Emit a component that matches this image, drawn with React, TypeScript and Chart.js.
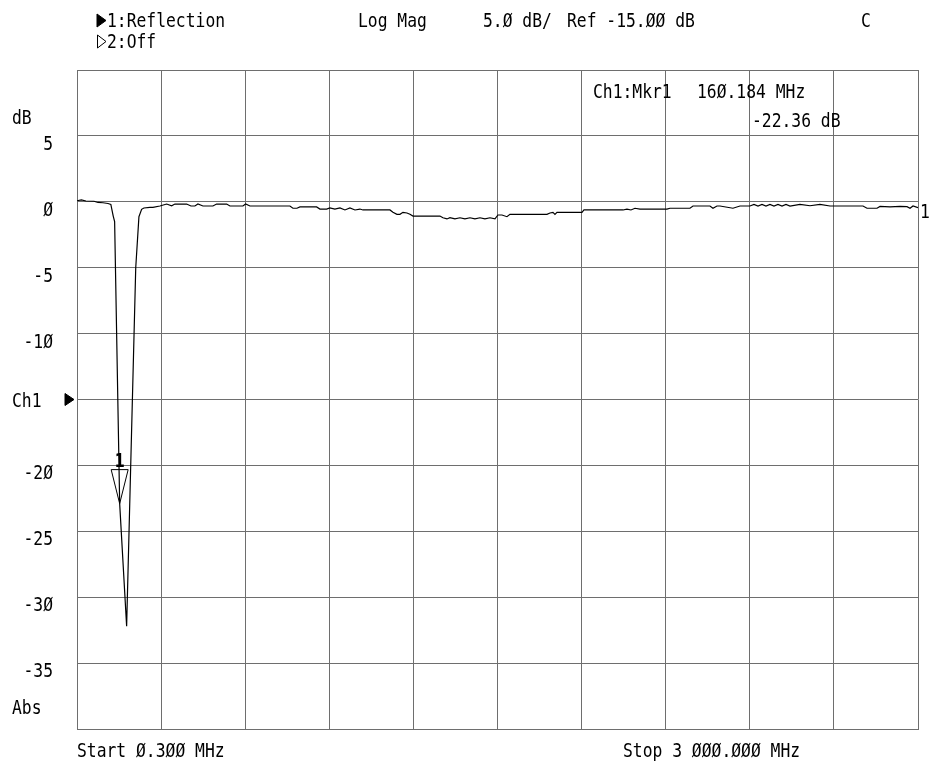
import React, { useEffect, useRef } from "react";
import { Chart, registerables } from "chart.js";

Chart.register(...registerables);

// ---- data ----
const FREQ_START = 0.3;
const FREQ_STOP = 3000;
const FREQ_DIV = 300;
const DB_MIN = -40;
const DB_MAX = 10;
const DB_DIV = 5;
const REF_LEVEL_DB = -15;

const traceFreqMHz = [
  0.3, 16, 32, 61, 75, 93, 111, 121, 129.5, 134.5,
  152.5, 177.3, 209.8, 221.2, 230.8, 239, 260.4, 271.1, 296, 320,
  337.8, 349.6, 391.3, 406.7, 420.9, 431.6, 449.5, 485.1, 498.3, 534,
  545.8, 592.2, 601.8, 617.1, 759.8, 770.5, 784.8, 795.5, 855, 866.8,
  890.7, 902.5, 920.3, 938.2, 956, 973.8, 991.7, 1009.5, 1020.2, 1116.5,
  1127.2, 1141.5, 1152.2, 1162.9, 1177.2, 1187.9, 1198.6, 1294.9, 1305.6, 1319.9,
  1330.6, 1348.4, 1366.2, 1384.1, 1401.9, 1419.8, 1437.6, 1455.4, 1473.3, 1491.1,
  1501.8, 1516.1, 1533.9, 1544.6, 1676.6, 1687.3, 1698, 1705.1, 1712.3, 1801.4,
  1808.6, 1947.7, 1962, 1976.2, 1990.5, 2008.3, 2104.6, 2115.3, 2186.7, 2197.4,
  2258, 2268.7, 2283, 2293.7, 2340, 2365, 2400.7, 2415, 2429.3, 2443.5,
  2457.8, 2472, 2486.3, 2500.6, 2514.9, 2529.1, 2543.4, 2579.1, 2614.8, 2650.4,
  2686.1, 2696.8, 2803.8, 2818.1, 2853.8, 2864.5, 2900.2, 2935.8, 2960.8, 2971.5,
  2982.2, 3000,
];

const traceDb = [
  0.08, 0.14, 0.06, 0.04, -0.05, -0.07, -0.13, -0.2, -1.08, -1.5,
  -22.9, -32.2, -5.0, -1.13, -0.57, -0.47, -0.42, -0.42, -0.32, -0.17,
  -0.3, -0.17, -0.17, -0.32, -0.32, -0.17, -0.32, -0.32, -0.17, -0.17,
  -0.32, -0.32, -0.17, -0.32, -0.32, -0.49, -0.49, -0.39, -0.39, -0.55,
  -0.55, -0.47, -0.55, -0.47, -0.62, -0.47, -0.62, -0.55, -0.62, -0.62,
  -0.8, -0.95, -0.95, -0.8, -0.85, -0.95, -1.08, -1.08, -1.21, -1.3,
  -1.21, -1.3, -1.21, -1.3, -1.21, -1.3, -1.21, -1.3, -1.21, -1.3,
  -1.0, -1.0, -1.13, -0.95, -0.95, -0.85, -0.8, -0.95, -0.8, -0.8,
  -0.62, -0.62, -0.55, -0.62, -0.49, -0.55, -0.55, -0.49, -0.49, -0.32,
  -0.32, -0.49, -0.32, -0.32, -0.49, -0.32, -0.32, -0.2, -0.32, -0.2,
  -0.32, -0.2, -0.32, -0.2, -0.32, -0.2, -0.32, -0.2, -0.3, -0.2,
  -0.32, -0.32, -0.32, -0.49, -0.49, -0.35, -0.39, -0.35, -0.37, -0.49,
  -0.32, -0.45,
];

const yTickValues = [5, 0, -5, -10, -20, -25, -30, -35];
const yTickLabels = ["5", "Ø", "-5", "-1Ø", "-2Ø", "-25", "-3Ø", "-35"];

const markerIndex = 10; // trace point where marker 1 sits
const markerLines = ["Ch1:Mkr1", "16Ø.184 MHz", "-22.36 dB"];

const headerCh1 = "1:Reflection";
const headerCh2 = "2:Off";
const headerFormat = "Log Mag";
const headerScale = "5.Ø dB/";
const headerRef = "Ref -15.ØØ dB";
const headerCal = "C";
const startLabel = "Start Ø.3ØØ MHz";
const stopLabel = "Stop 3 ØØØ.ØØØ MHz";

// ---- styles ----
const GRID = "#6e6e6e";
const FONT_FAMILY = "'DejaVu Sans Mono', monospace";
const FONT_SIZE = 19;
const SX = 0.86;

function drawText(ctx: CanvasRenderingContext2D, text: string, x: number, y: number, align: CanvasTextAlign = "left", bold = false) {
  ctx.save();
  ctx.translate(x, y);
  ctx.scale(SX, 1);
  ctx.font = `${bold ? "bold " : ""}${FONT_SIZE}px ${FONT_FAMILY}`;
  ctx.fillStyle = "#000";
  ctx.textAlign = align;
  ctx.textBaseline = "alphabetic";
  ctx.fillText(text, 0, 0);
  ctx.restore();
}

function tri(ctx: CanvasRenderingContext2D, pts: number[][], fill: boolean) {
  ctx.beginPath();
  ctx.moveTo(pts[0][0], pts[0][1]);
  for (let i = 1; i < pts.length; i++) ctx.lineTo(pts[i][0], pts[i][1]);
  ctx.closePath();
  if (fill) {
    ctx.fillStyle = "#000";
    ctx.fill();
  }
  ctx.strokeStyle = "#000";
  ctx.lineWidth = 1;
  ctx.stroke();
}

const annotPlugin = {
  id: "vnaAnnotations",
  afterDraw(chart: any) {
    const ctx: CanvasRenderingContext2D = chart.ctx;
    const xs = chart.scales.x;
    const ys = chart.scales.y;
    const area = chart.chartArea;
    ctx.save();

    // header
    tri(ctx, [[97, 14], [106, 20.5], [97, 27]], true);
    drawText(ctx, headerCh1, 107, 27);
    tri(ctx, [[97.5, 35], [106, 41.5], [97.5, 48]], false);
    drawText(ctx, headerCh2, 107, 48);
    drawText(ctx, headerFormat, 358, 27);
    drawText(ctx, headerScale, 483, 27);
    drawText(ctx, headerRef, 567, 27);
    drawText(ctx, headerCal, 861, 27);

    // y labels
    drawText(ctx, "dB", 12, 124);
    yTickValues.forEach((v, i) => {
      drawText(ctx, yTickLabels[i], 53, ys.getPixelForValue(v) + 14, "right");
    });
    const refY = ys.getPixelForValue(REF_LEVEL_DB);
    drawText(ctx, "Ch1", 12, refY + 7);
    tri(ctx, [[65, refY - 6], [74, refY], [65, refY + 6]], true);
    drawText(ctx, "Abs", 12, 714);

    // bottom labels
    drawText(ctx, startLabel, area.left, 757);
    drawText(ctx, stopLabel, 623, 757);

    // trace end label
    const endY = ys.getPixelForValue(traceDb[traceDb.length - 1]);
    drawText(ctx, "1", area.right + 2, endY + 10);

    // marker readout
    drawText(ctx, markerLines[0], 593, 98);
    drawText(ctx, markerLines[1], 697, 98);
    drawText(ctx, markerLines[2], 752, 127);

    // marker triangle
    const mx = xs.getPixelForValue(traceFreqMHz[markerIndex]);
    const my = ys.getPixelForValue(traceDb[markerIndex]);
    tri(ctx, [[mx - 8.5, my - 34], [mx + 8.5, my - 34], [mx, my]], false);
    drawText(ctx, "1", mx, my - 37, "center", true);

    ctx.restore();
  },
};

export default function App() {
  const ref = useRef<HTMLCanvasElement>(null);

  useEffect(() => {
    const canvas = ref.current;
    if (!canvas) return;
    const points = traceFreqMHz.map((f, i) => ({ x: f, y: traceDb[i] }));
    const chart = new Chart(canvas, {
      type: "line",
      data: {
        datasets: [
          {
            data: points,
            borderColor: "#000",
            borderWidth: 1.2,
            pointRadius: 0,
            tension: 0,
            fill: false,
          },
        ],
      },
      options: {
        responsive: false,
        animation: false,
        devicePixelRatio: 1,
        layout: { padding: { left: 77, top: 70, right: 13, bottom: 38 } },
        plugins: { legend: { display: false }, tooltip: { enabled: false } },
        scales: {
          x: {
            type: "linear",
            min: FREQ_START,
            max: FREQ_STOP,
            ticks: { display: false, stepSize: FREQ_DIV },
            grid: { color: GRID, lineWidth: 1, drawTicks: false },
            border: { color: GRID },
            afterFit: (s: any) => {
              s.height = 0;
            },
          },
          y: {
            min: DB_MIN,
            max: DB_MAX,
            ticks: { display: false, stepSize: DB_DIV },
            grid: { color: GRID, lineWidth: 1, drawTicks: false },
            border: { color: GRID },
            afterFit: (s: any) => {
              s.width = 0;
            },
          },
        },
      } as any,
      plugins: [annotPlugin],
    });
    return () => chart.destroy();
  }, []);

  return (
    <div style={{ position: "absolute", left: 0, top: 0, width: 931, height: 767, background: "#fff" }}>
      <canvas ref={ref} width={931} height={767} style={{ display: "block", width: 931, height: 767 }} />
    </div>
  );
}
